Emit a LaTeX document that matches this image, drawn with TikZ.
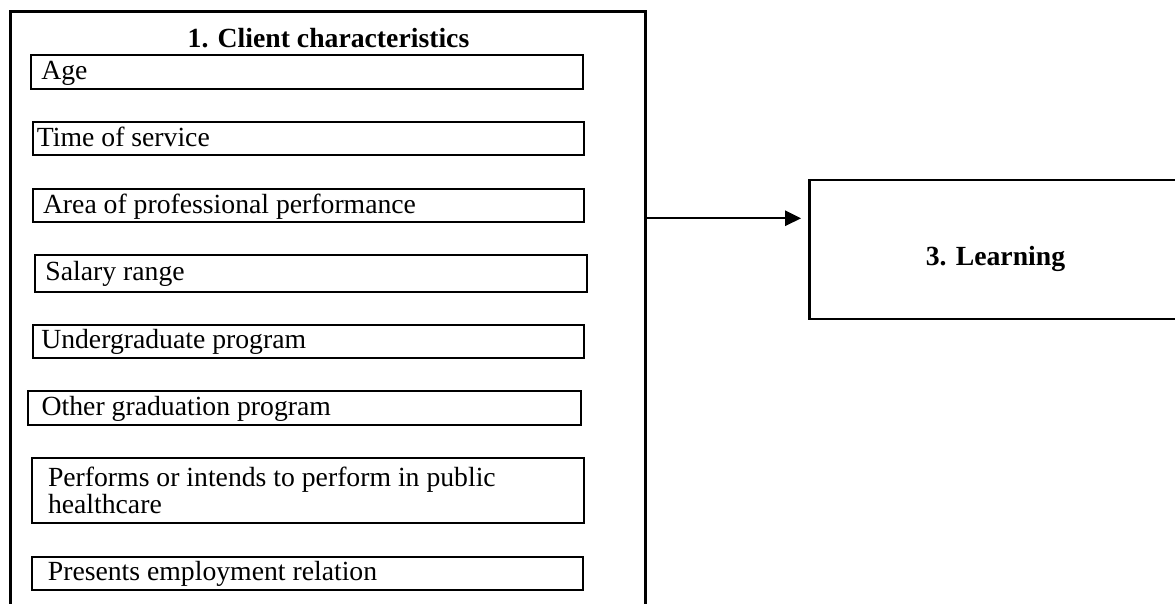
\documentclass[tikz,border=0pt]{standalone}
\usepackage{fontspec}
\setmainfont{Liberation Serif}
\usetikzlibrary{arrows.meta}
\begin{document}
\begin{tikzpicture}[x=0.5pt,y=-0.5pt,
  itembox/.style={draw=black,line width=1pt,inner sep=0pt,outer sep=0pt,rectangle},
  bigbox/.style={draw=black,line width=1.4pt,inner sep=0pt,outer sep=0pt,rectangle},
  txt/.style={inner sep=0pt,outer sep=0pt,font=\fontsize{13.85}{13.35}\selectfont},
  ttl/.style={inner sep=0pt,outer sep=0pt,font=\fontsize{13.85}{13.4}\selectfont\bfseries},
  arr/.style={draw=black,line width=0.85pt,-{Triangle[length=8pt,width=7.7pt]}}]
\useasboundingbox (0,0) rectangle (1175,604);
\clip (0,0) rectangle (1175,604);
% outer container
\node[bigbox,anchor=north west,minimum width=317.5pt,minimum height=315pt] (outer) at (10.7,11.7) {};
\node[ttl,anchor=base] (title) at (328.5,48) {1. Client characteristics};
% item boxes
\node[itembox,minimum width=276pt,minimum height=17pt] (age) at (306.7,72) {};
\node[txt,anchor=base west] (tage) at (41.3,80) {Age};
\node[itembox,minimum width=275.65pt,minimum height=16.65pt] (time) at (308.35,138.35) {};
\node[txt,anchor=base west] (ttime) at (37,146.7) {Time of service};
\node[itembox,minimum width=275.65pt,minimum height=16.35pt] (area) at (308.35,205.35) {};
\node[txt,anchor=base west] (tarea) at (43,213.3) {Area of professional performance};
\node[itembox,minimum width=275.85pt,minimum height=18.5pt] (salary) at (310.85,273.5) {};
\node[txt,anchor=base west] (tsal) at (45.5,281) {Salary range};
\node[itembox,minimum width=275.65pt,minimum height=16.65pt] (under) at (308.35,341.35) {};
\node[txt,anchor=base west] (tund) at (41.3,348.7) {Undergraduate program};
\node[itembox,minimum width=276.15pt,minimum height=17pt] (other) at (304.45,408.3) {};
\node[txt,anchor=base west] (toth) at (41.7,415.3) {Other graduation program};
\node[itembox,minimum width=275.95pt,minimum height=32.35pt] (perf) at (307.65,490.35) {};
\node[txt,anchor=base west,align=left] (tperf) at (48,513.7) {Performs or intends to perform in public\\healthcare};
\node[itembox,minimum width=275.8pt,minimum height=16.65pt] (pres) at (307.5,573.65) {};
\node[txt,anchor=base west] (tpres) at (47.9,581) {Presents employment relation};
% learning box
\node[bigbox,line width=1.2pt,anchor=north west,minimum width=200pt,minimum height=69.65pt] (learn) at (809.3,180) {};
\node[ttl,anchor=base] (tlearn) at (995.5,266) {3. Learning};
% connector
\path (outer.north east) ++(0,206.6) coordinate (src);
\path (learn.north west) ++(-8.3,38.3) coordinate (dst);
\draw[arr] (src) -- (dst);
\end{tikzpicture}
\end{document}
